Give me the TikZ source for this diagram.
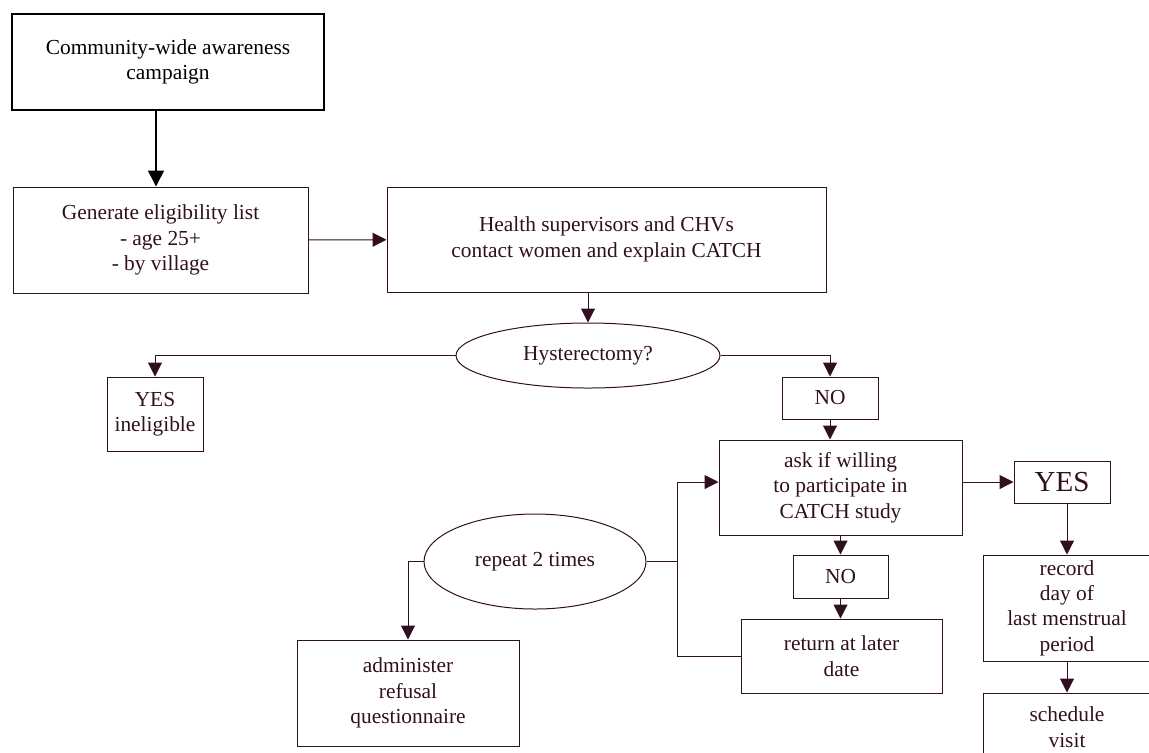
\documentclass[tikz,border=0pt]{standalone}
\usepackage{fontspec}
\setmainfont{Liberation Serif}
\usepackage{tikz}
\usetikzlibrary{positioning, arrows.meta, shapes.geometric, calc}
\definecolor{ink}{HTML}{301020}

\begin{document}
\begin{tikzpicture}[x=0.5pt, y=-0.5pt, font=\fontsize{10.7}{12.7}\selectfont,
	box/.style={draw=ink, text=ink, line width=0.5pt, rectangle, align=center, inner sep=0pt},
	oval/.style={draw=ink, text=ink, line width=0.5pt, ellipse, align=center, inner sep=0pt},
	link/.style={draw=ink, line width=0.5pt, -{Triangle[length=7pt, width=7pt]}},
	plain/.style={draw=ink, line width=0.5pt}]
			
			\useasboundingbox (0,0) rectangle (1149,752);
			\clip (0,0) rectangle (1149,752);
			
			%Nodes
			\node (campaign) at (168,62) [draw, line width=1.1pt, align=center, inner sep=0pt,
			minimum width=156pt, minimum height=48pt]{Community-wide awareness\\campaign};
			
			\node (eligible) at (160.5,240) [box, minimum width=147.5pt, minimum height=53pt]
			{Generate eligibility list\\- age 25+\\- by village};
			
			\node (contact) at (606.5,239.5) [box, minimum width=219.5pt, minimum height=52.5pt]
			{Health supervisors and CHVs\\contact women and explain CATCH};
			
			\node (hyster) at (588,355.5) [oval, minimum width=132pt, minimum height=32.5pt]
			{Hysterectomy?};
			
			\node (ineligible) at (155,414) [box, minimum width=48pt, minimum height=37pt]
			{YES\\ineligible};
			
			\node (nohyst) at (830,398) [box, minimum width=48pt, minimum height=21pt]{NO};
			
			\node (willing) at (840.5,487.5) [box, minimum width=121.5pt, minimum height=47.5pt]
			{ask if willing\\to participate in\\CATCH study};
			
			\node (yeswill) at (1062,482) [box, minimum width=48pt, minimum height=21pt,
			font=\fontsize{14.5}{16}\selectfont]{YES};
			
			\node (nowill) at (840.5,576.5) [box, minimum width=47.5pt, minimum height=21.5pt]{NO};
			
			\node (later) at (841.5,656) [box, minimum width=100.5pt, minimum height=37pt]
			{return at later\\date};
			
			\node (repeat) at (535,561.5) [oval, minimum width=111pt, minimum height=47.5pt]
			{repeat 2 times};
			
			\node (refusal) at (408,693) [box, minimum width=111pt, minimum height=53pt]
			{administer\\refusal\\questionnaire};
			
			\node (record) at (1067,608) [box, minimum width=84pt, minimum height=53pt]
			{record\\day of\\last menstrual\\period};
			
			\node (visit) at (1067,727) [box, minimum width=84pt, minimum height=34pt]
			{schedule\\visit};
			
			\coordinate (loop) at (677,482);
			
			%Links
			\draw[line width=0.8pt, -{Triangle[length=8pt, width=8pt]}] ([xshift=-6pt]campaign.south)
			-- ([xshift=-6pt]campaign.south |- eligible.north);
			\draw[link] (eligible) -- (contact);
			\draw[link] (hyster.north |- contact.south) -- (hyster.north);
			\draw[link] (hyster.west) -| (ineligible.north);
			\draw[link] (hyster.east) -| (nohyst.north);
			\draw[link] (nohyst.south) -- (nohyst.south |- willing.north);
			\draw[link] (willing.east |- yeswill) -- (yeswill.west);
			\draw[link] (record.north |- yeswill.south) -- (record.north);
			\draw[link] (record) -- (visit);
			\draw[link] (willing) -- (nowill);
			\draw[link] (nowill) -- (later.north -| nowill);
			\draw[link] (later.west) -| (loop) -- (loop -| willing.west);
			\draw[plain] (repeat.east) -- (repeat.east -| loop);
			\draw[link] (repeat.west) -| (refusal.north);
			
			\end{tikzpicture}
\end{document}
